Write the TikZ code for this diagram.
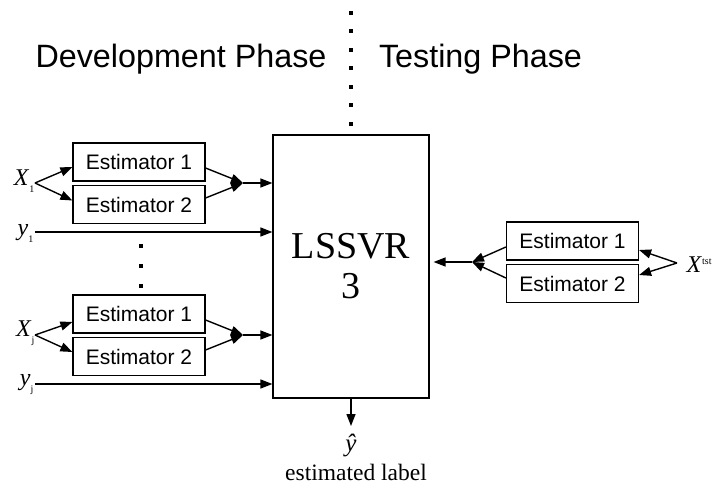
\documentclass[tikz,border=0pt]{standalone}
\usepackage{fontspec}
\setmainfont{Liberation Serif}
\newfontfamily\sansf{Liberation Sans}
\usetikzlibrary{arrows.meta,calc}
\begin{document}
\begin{tikzpicture}[x=1pt,y=-1pt,
  line width=1.4pt,
  tip/.style={-{Triangle[length=12pt,width=9pt]}},
  estbox/.style={draw,line width=1.2pt,minimum width=132pt,minimum height=38pt,
    inner sep=0pt,font=\sansf\fontsize{21}{24}\selectfont},
  dotsq/.style={fill=black,minimum size=4pt,inner sep=0pt},
  lbl/.style={inner sep=0pt,font=\fontsize{24}{28}\selectfont},
  title/.style={anchor=base,font=\sansf\fontsize{32.3}{38}\selectfont}]
\useasboundingbox (0,0) rectangle (714,486);

% phase titles and separator
\node[title] (dev) at (181,68) {Development Phase};
\node[title] (tst) at (480.5,68) {Testing Phase};
\foreach \i/\yy in {1/13,2/31.5,3/50,4/68.5,5/87,6/105.5,7/124}
  \node[dotsq] (sep\i) at (351,\yy) {};

% regressor
\node[draw,line width=1.2pt,minimum width=156pt,minimum height=263pt,inner sep=0pt] (main) at (351,266.5) {};
\node[font=\fontsize{38}{42}\selectfont,align=center] (mtxt) at (351,266) {LSSVR\\[-2pt]3};

% first training group
\node[estbox] (e1) at (139,162) {Estimator 1};
\node[estbox] (e2) at (139,204.5) {Estimator 2};
\coordinate (x1) at (35,183);
\coordinate (j1) at (243,183);
\node[lbl,anchor=east] (lx1) at (35,181) {\textit{X}\raisebox{-7pt}{\fontsize{10}{12}\selectfont 1}};
\draw[tip] (x1) -- ($(e1.west)+(0,5)$);
\draw[tip] (x1) -- ($(e2.west)+(0,-4)$);
\draw[tip] ($(e1.east)+(0,6)$) -- (j1);
\draw[tip] ($(e2.east)+(0,-6.5)$) -- (j1);
\draw[tip] (j1) -- (main.west |- j1);
\node[lbl,anchor=east] (ly1) at (34,233) {\textit{y}\raisebox{-7pt}{\fontsize{10}{12}\selectfont 1}};
\coordinate (y1) at (35,232);
\draw[tip] (y1) -- (main.west |- y1);

% vertical ellipsis
\foreach \i/\yy in {1/246,2/266,3/286}
  \node[dotsq] (vd\i) at (141,\yy) {};

% j-th training group
\node[estbox] (e3) at (139,314) {Estimator 1};
\node[estbox] (e4) at (139,356.5) {Estimator 2};
\coordinate (xj) at (35,335);
\coordinate (jj) at (243,335);
\node[lbl,anchor=east] (lxj) at (35,333) {\textit{X}\raisebox{-7pt}{\fontsize{10}{12}\selectfont j}};
\draw[tip] (xj) -- ($(e3.west)+(0,8)$);
\draw[tip] (xj) -- ($(e4.west)+(0,-4.5)$);
\draw[tip] ($(e3.east)+(0,6)$) -- (jj);
\draw[tip] ($(e4.east)+(0,-6.5)$) -- (jj);
\draw[tip] (jj) -- (main.west |- jj);
\node[lbl,anchor=east] (lyj) at (34,385) {\textit{y}\raisebox{-7pt}{\fontsize{10}{12}\selectfont j}};
\coordinate (yj) at (35,384);
\draw[tip] (yj) -- (main.west |- yj);

% testing group
\node[estbox] (r1) at (572.5,241) {Estimator 1};
\node[estbox] (r2) at (572.5,283.5) {Estimator 2};
\coordinate (xt) at (677,263);
\coordinate (jt) at (472,262);
\node[lbl,anchor=west] (lxt) at (686,265) {\textit{X}\raisebox{8pt}{\fontsize{10}{12}\selectfont tst}};
\draw[tip] (xt) -- ($(r1.east)+(0,9)$);
\draw[tip] (xt) -- ($(r2.east)+(0,-8.5)$);
\draw[tip] ($(r1.west)+(0,6)$) -- (jt);
\draw[tip] ($(r2.west)+(0,-5.5)$) -- (jt);
\coordinate (mr) at ([xshift=4pt]main.east |- jt);
\draw[tip] (jt) -- (mr);

% output
\coordinate (yo) at (351,426);
\draw[tip] (main.south) -- (yo);
\node[inner sep=0pt,font=\fontsize{25}{28}\selectfont] (yhat) at (351,446) {\textit{ŷ}};
\node[anchor=base,inner sep=0pt,font=\fontsize{23.5}{28}\selectfont] (elab) at (356,480) {estimated label};
\end{tikzpicture}
\end{document}
